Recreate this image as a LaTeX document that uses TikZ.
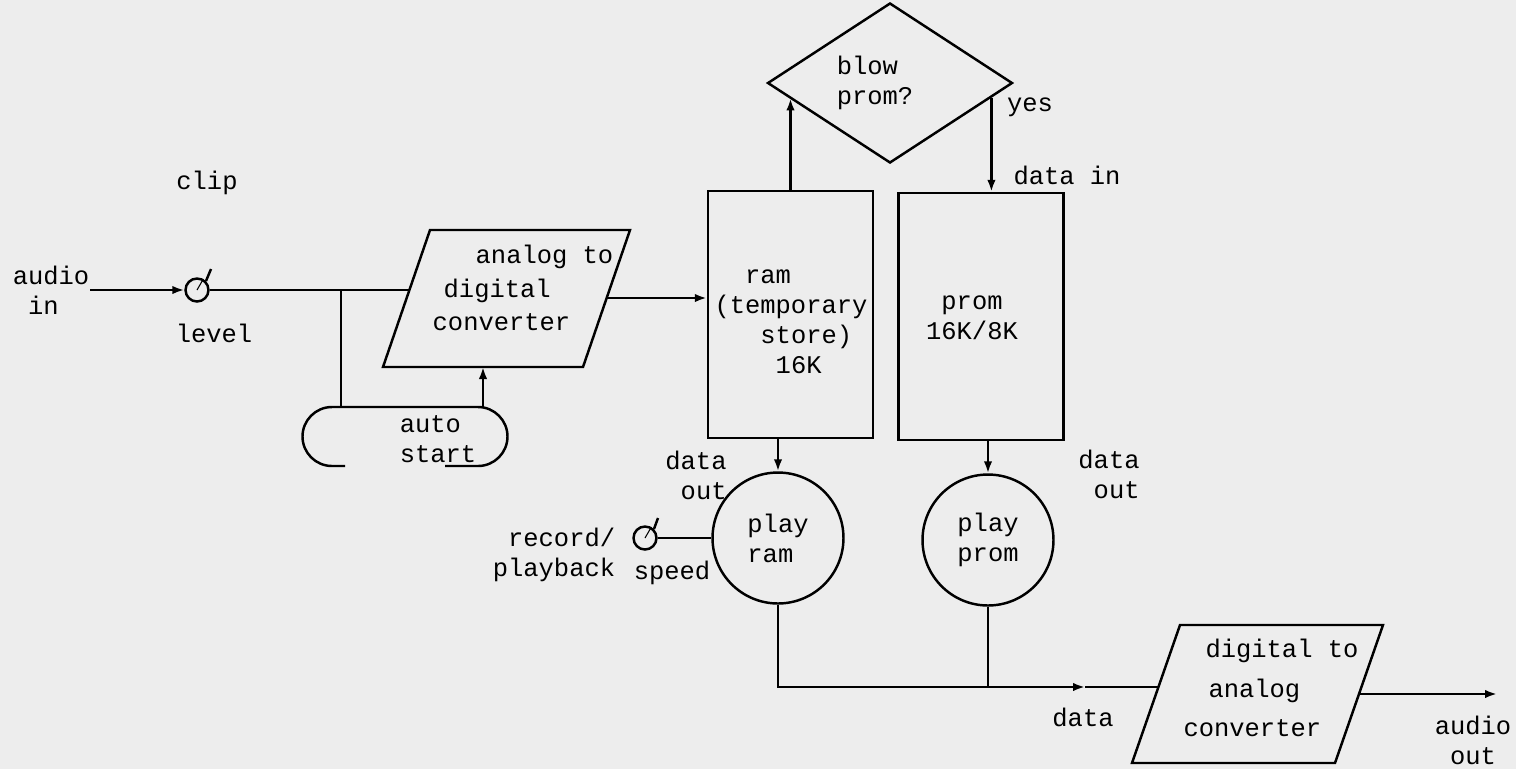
\documentclass[tikz,border=0pt]{standalone}
\usepackage{fontspec}
\setmonofont{Liberation Mono}
\usetikzlibrary{shapes.geometric,arrows.meta,calc}
\definecolor{paper}{gray}{0.93}
\tikzset{
  every node/.style={font=\ttfamily\fontsize{14.5}{17}\selectfont},
  lbl/.style={inner sep=0pt},
  box/.style={draw, minimum width=3.3cm, minimum height=4.94cm, inner sep=0pt},
  play/.style={draw, circle, minimum size=2.62cm, inner sep=0pt, align=left},
  knob/.style={draw, circle, minimum size=0.46cm, inner sep=0pt},
  decide/.style={draw, diamond, minimum width=4.9cm, minimum height=2.78cm, inner sep=0pt, align=left},
  >={Latex[length=2.4mm,width=1.7mm]}
}

\begin{document}
\begin{tikzpicture}[x=0.02cm, y=-0.02cm, line width=1.4pt]
    \useasboundingbox (0,0) rectangle (1516,769);
    \fill[paper] (0,0) rectangle (1516,769);

    % input and level knob
    \node[lbl, align=left] (ain) at (51,290) {audio\\\phantom{x}in};
    \node[knob] (lvl) at (197,290) {};
    \draw (lvl.45) -- ++(5,-12);
    \draw[line width=0.6pt] (lvl.center) -- (lvl.60);
    \node[lbl] (clip) at (207,183) {clip};
    \node[lbl] (level) at (214,333) {level};
    \draw[->] (ain.east) -- (lvl.west);

    % analog to digital
    \draw (430,230) -- (630,230) -- (583,367) -- (383,367) -- cycle;
    \node[lbl, align=left] (adc) at (523,288) {\hspace*{0.86cm}analog to\\[2pt]\hspace*{0.22cm}digital\\[2pt]converter};
    \coordinate (adcin) at (409,290);
    \coordinate (adcout) at (607,298);
    \coordinate (adcbot) at (483,367);
    \draw (lvl.east) -- (adcin);
    \coordinate (tap) at (341,290);
    \coordinate (asin) at (341,407);
    \coordinate (asout) at (483,407);
    \draw (tap) -- (asin);

    % auto start
    \draw (345,466) -- (332,466) arc[start angle=90, end angle=270, radius=29.5]
        -- (478,407) arc[start angle=270, end angle=450, radius=29.5] -- (445,466);
    \node[lbl, align=left] (ast) at (438,439) {auto\\start};
    \draw[->] (asout) -- (adcbot);

    % stores
    \node[box] (ram) at (790.5,314.5) {};
    \node[lbl, align=left] (ramtxt) at (791,322) {\phantom{xx}ram\\(temporary\\\phantom{xxx}store)\\\phantom{xxxx}16K};
    \node[box] (prom) at (981,316.5) {};
    \node[lbl, align=center] (promtxt) at (972,318) {prom\\16K/8K};
    \draw[->] (adcout) -- (adcout -| ram.west);

    % blow prom?
    \node[decide] (blow) at (890,83) {blow\\prom?\hspace*{0.6cm}};
    \coordinate (blowin) at ($(blow.west)!0.19!(blow.south)$);
    \coordinate (blowout) at ($(blow.east)!0.18!(blow.south)$);
    \draw[->] (ram.north) -- (ram.north |- blowin);
    \draw[->] (blowout) -- (blowout |- prom.north);
    \node[lbl] (yes) at (1030,107) {yes};
    \node[lbl] (datain) at (1067,175) {data in};

    % players
    \node[play] (pram) at (778,538) {play\\ram};
    \node[play] (pprom) at (988,540) {play\\prom};
    \draw[->] (pram.north |- ram.south) -- (pram.north);
    \draw[->] (pprom.north |- prom.south) -- (pprom.north);
    \node[lbl, align=right] (ramout) at (696,475) {data\\out};
    \node[lbl, align=right] (promout) at (1109,474) {data\\out};

    % speed knob
    \node[knob] (spd) at (645,538) {};
    \draw (spd.45) -- ++(4,-11);
    \draw[line width=0.6pt] (spd.center) -- (spd.60);
    \draw (spd.east) -- (pram.west);
    \node[lbl, align=right] (recplay) at (554,555) {record/\\playback};
    \node[lbl] (speed) at (672,573) {speed};

    % digital to analog
    \draw (1180,625) -- (1383,625) -- (1335,763) -- (1132,763) -- cycle;
    \node[lbl, align=left] (dac) at (1271,688) {\hspace*{0.44cm}digital to\\[5.5pt]\hspace*{0.5cm}analog\\[5.5pt]converter};
    \coordinate (dacin) at (1158,687);
    \coordinate (dacout) at (1359,694);
    \coordinate (join) at (988,687);
    \coordinate (dmid) at (1085,687);
    \coordinate (aout) at (1497,694);
    \draw (pram.south) |- (join);
    \draw (pprom.south) -- (join);
    \draw[->] (join) -- (dmid);
    \draw (dmid) -- (dacin);
    \node[lbl] (data) at (1083,717) {data};
    \draw[->] (dacout) -- (aout);
    \node[lbl, align=center] (audioout) at (1473,740) {audio\\out};
\end{tikzpicture}
\end{document}
